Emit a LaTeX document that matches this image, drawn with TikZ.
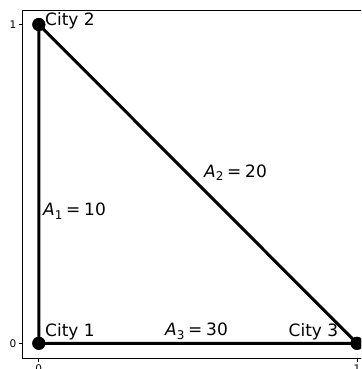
\documentclass[tikz,border=0pt]{standalone}
\usepackage{fontspec}
\setmainfont{DejaVu Sans}
\newcommand\Asub[2]{\textit{A}\raisebox{-0.22em}{\fontsize{12}{12}\selectfont #1}\hspace{0.22em}=\hspace{0.22em}#2}
\begin{document}
\begin{tikzpicture}[x=1pt,y=-1pt,
  edge/.style={line width=3pt, black},
  city/.style={circle, fill=black, inner sep=0pt, minimum size=13pt},
  lbl/.style={anchor=base west, inner sep=0pt, font=\fontsize{17}{20}\selectfont},
  ticklbl/.style={font=\fontsize{10.5}{11}\selectfont, inner sep=0pt},
  tickmark/.style={line width=0.8pt, black}]
\useasboundingbox (0,0) rectangle (361,369);
\clip (0,0) rectangle (361,369);
% axes frame
\draw[line width=0.8pt] (22.3,358.7) rectangle (380,10.5);
% y ticks
\coordinate (yt1) at (22.3,24.5);
\coordinate (yt0) at (22.3,343.3);
\draw[tickmark] (yt1) -- ++(-3.5,0);
\draw[tickmark] (yt0) -- ++(-3.5,0);
\node[ticklbl, anchor=east] (ylab1) at (16.5,25) {1};
\node[ticklbl, anchor=east] (ylab0) at (16.5,343.5) {0};
% x ticks
\coordinate (xt0) at (38.8,358.7);
\coordinate (xt1) at (357,358.7);
\draw[tickmark] (xt0) -- ++(0,3.5);
\draw[tickmark] (xt1) -- ++(0,3.5);
\node[ticklbl, anchor=north] (xlab0) at (38.8,364.5) {0};
\node[ticklbl, anchor=north] (xlab1) at (357,364.5) {1};
% cities
\node[city] (c1) at (38.8,343.3) {};
\node[city] (c2) at (38.8,24.5) {};
\node[city] (c3) at (357,343.3) {};
\draw[edge] (c1.center) -- (c2.center) -- (c3.center) -- (c1.center);
\node[city] at (c1) {};
\node[city] at (c2) {};
\node[city] at (c3) {};
% labels
\node[lbl] (l1) at (45,336.2) {City 1};
\node[lbl] (l2) at (45,25.7) {City 2};
\node[lbl] (l3) at (288.5,336.7) {City 3};
\node[lbl] (a1) at (43,215.8) {\Asub{1}{10}};
\node[lbl] (a2) at (204,177) {\Asub{2}{20}};
\node[lbl] (a3) at (165,335.5) {\Asub{3}{30}};
\end{tikzpicture}
\end{document}
